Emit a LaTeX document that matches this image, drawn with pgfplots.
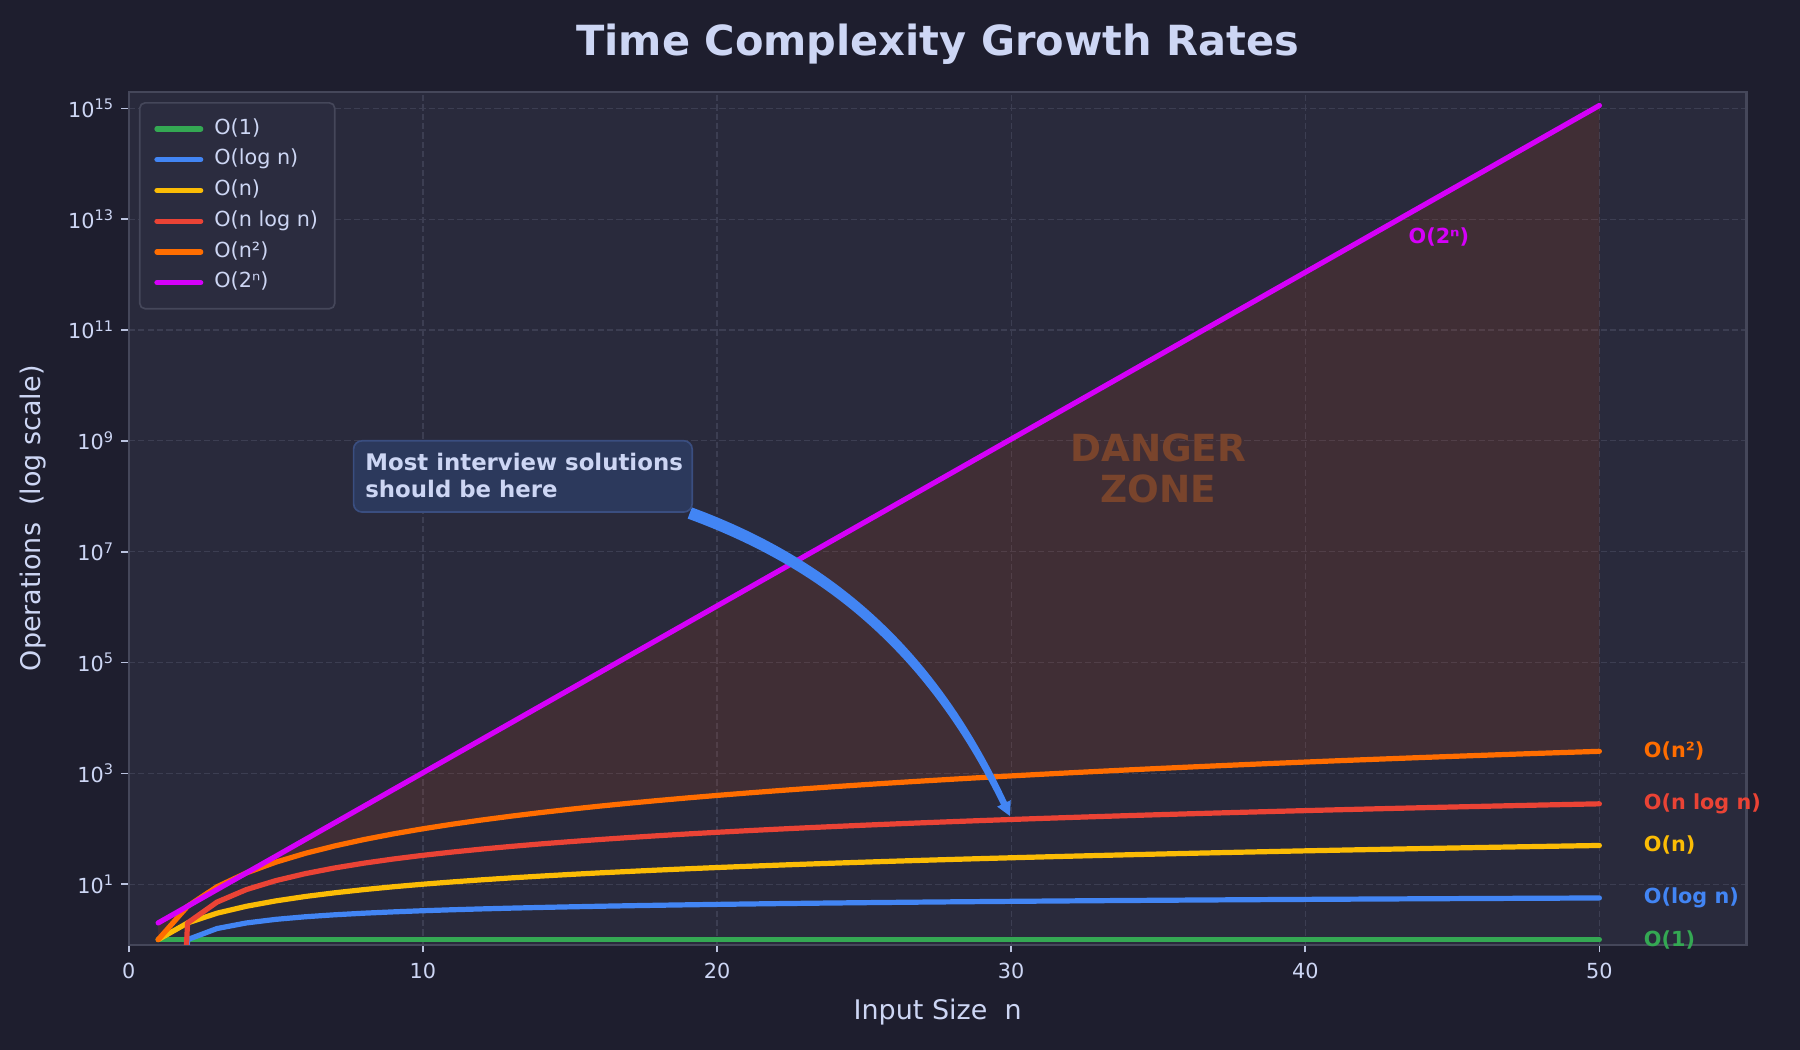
\documentclass[border=0pt]{standalone}
\usepackage{fontspec}
\setmainfont{DejaVu Sans}
\usepackage{pgfplots}
\usepackage{pgfplotstable}
\pgfplotsset{compat=1.18}
\usepgfplotslibrary{fillbetween}

\definecolor{figbg}{RGB}{30,30,46}
\definecolor{axisbg}{RGB}{41,42,60}
\definecolor{legbg}{RGB}{43,44,63}
\definecolor{framecol}{RGB}{69,71,90}
\definecolor{gridcol}{RGB}{60,62,82}
\definecolor{textcol}{RGB}{205,214,244}
\definecolor{tickcol}{RGB}{186,194,222}
\definecolor{cgreen}{RGB}{52,168,83}
\definecolor{cblue}{RGB}{66,133,244}
\definecolor{cyellow}{RGB}{251,188,5}
\definecolor{cred}{RGB}{234,67,53}
\definecolor{corange}{RGB}{255,109,0}
\definecolor{cpurple}{RGB}{213,0,249}
\definecolor{dangerfill}{RGB}{255,80,0}
\definecolor{dangertext}{RGB}{121,68,44}
\definecolor{boxfill}{RGB}{44,57,92}
\definecolor{boxedge}{RGB}{58,78,128}
\pagecolor{figbg}

% Operation counts for n = 1..50 (log base 2).
% log2(1) = 0 cannot sit on a log axis; a vanishing value sends
% that first segment straight off the bottom edge.
\pgfplotstableread{
n  one  logn    lin  nlogn    sq    ex
1  1    1e-10   1    1e-10    1     2
2  1    1       2    2        4     4
3  1    1.585   3    4.755    9     8
4  1    2       4    8        16    16
5  1    2.3219  5    11.61    25    32
6  1    2.585   6    15.51    36    64
7  1    2.8074  7    19.65    49    128
8  1    3       8    24       64    256
9  1    3.1699  9    28.53    81    512
10 1    3.3219  10   33.22    100   1024
11 1    3.4594  11   38.05    121   2048
12 1    3.585   12   43.02    144   4096
13 1    3.7004  13   48.11    169   8192
14 1    3.8074  14   53.30    196   16384
15 1    3.9069  15   58.60    225   32768
16 1    4       16   64       256   65536
17 1    4.0875  17   69.49    289   1.31072e5
18 1    4.1699  18   75.06    324   2.62144e5
19 1    4.2479  19   80.71    361   5.24288e5
20 1    4.3219  20   86.44    400   1.048576e6
21 1    4.3923  21   92.24    441   2.097152e6
22 1    4.4594  22   98.11    484   4.194304e6
23 1    4.5236  23   104.04   529   8.388608e6
24 1    4.585   24   110.04   576   1.6777216e7
25 1    4.6439  25   116.10   625   3.3554432e7
26 1    4.7004  26   122.21   676   6.7108864e7
27 1    4.7549  27   128.38   729   1.34217728e8
28 1    4.8074  28   134.61   784   2.68435456e8
29 1    4.8580  29   140.88   841   5.36870912e8
30 1    4.9069  30   147.21   900   1.073741824e9
31 1    4.9542  31   153.58   961   2.147483648e9
32 1    5       32   160      1024  4.294967296e9
33 1    5.0444  33   166.47   1089  8.589934592e9
34 1    5.0875  34   172.98   1156  1.7179869184e10
35 1    5.1293  35   179.53   1225  3.4359738368e10
36 1    5.1699  36   186.12   1296  6.8719476736e10
37 1    5.2095  37   192.75   1369  1.37438953472e11
38 1    5.2479  38   199.42   1444  2.74877906944e11
39 1    5.2854  39   206.13   1521  5.49755813888e11
40 1    5.3219  40   212.88   1600  1.099511627776e12
41 1    5.3576  41   219.66   1681  2.199023255552e12
42 1    5.3923  42   226.48   1764  4.398046511104e12
43 1    5.4263  43   233.33   1849  8.796093022208e12
44 1    5.4594  44   240.21   1936  1.7592186044416e13
45 1    5.4919  45   247.13   2025  3.5184372088832e13
46 1    5.5236  46   254.09   2116  7.0368744177664e13
47 1    5.5546  47   261.07   2209  1.40737488355328e14
48 1    5.5850  48   268.08   2304  2.81474976710656e14
49 1    5.6147  49   275.12   2401  5.62949953421312e14
50 1    5.6439  50   282.19   2500  1.125899906842624e15
}\growth

\begin{document}
\begin{tikzpicture}
\begin{axis}[
  at={(61.8bp,50.4bp)}, anchor=south west,
  scale only axis, width=776.5bp, height=409.6bp,
  ymode=log, log basis y=10,
  xmin=0, xmax=55, ymin=0.8, ymax=2e15,
  xtick={0,10,20,30,40,50},
  xticklabels={0,10,20,30,40,50},
  ytick={1e1,1e3,1e5,1e7,1e9,1e11,1e13,1e15},
  yticklabels={10\textsuperscript{1},10\textsuperscript{3},10\textsuperscript{5},10\textsuperscript{7},10\textsuperscript{9},10\textsuperscript{11},10\textsuperscript{13},10\textsuperscript{15}},
  yminorticks=false, xminorticks=false,
  xtick pos=left, ytick pos=left,
  axis background/.style={fill=axisbg},
  axis line style={draw=framecol, line width=1bp},
  grid=major,
  major grid style={draw=gridcol, dash pattern=on 3bp off 1.5bp, line width=0.6bp},
  tick align=outside, major tick length=3.5bp,
  tick style={draw=tickcol, line width=0.8bp},
  tick label style={text=textcol, font=\fontsize{10}{12}\selectfont},
  xticklabel style={yshift=-1.5bp},
  clip mode=individual,
  legend cell align=left,
  legend image code/.code={\draw[#1, line cap=round] (0bp,0bp) -- (21bp,0bp);},
  legend style={
    at={(0,1)}, anchor=north west, xshift=4.9bp, yshift=-5bp,
    fill=legbg, draw=framecol, line width=0.8bp, rounded corners=2.5bp,
    text=textcol, font=\fontsize{10}{12}\selectfont,
    inner xsep=7bp, inner ysep=6.5bp, row sep=2.8bp,
    nodes={inner sep=1bp, text height=0.75em, text depth=0.25em},
    /tikz/every odd column/.append style={column sep=4.3bp},
  },
  every axis plot/.append style={line width=2.5bp, line cap=round, line join=round},
]
\addplot[cgreen] table[x=n, y=one] {\growth};
\addlegendentry{O(1)}
\addplot[cblue] table[x=n, y=logn] {\growth};
\addlegendentry{O(log n)}
\addplot[cyellow] table[x=n, y=lin] {\growth};
\addlegendentry{O(n)}
\addplot[cred] table[x=n, y=nlogn] {\growth};
\addlegendentry{O(n log n)}
\addplot[corange, name path=sq] table[x=n, y=sq] {\growth};
\addlegendentry{O(n²)}
\addplot[cpurple, name path=ex] table[x=n, y=ex] {\growth};
\addlegendentry{O(2ⁿ)}

% shaded region between quadratic and exponential growth
\addplot[fill=dangerfill, fill opacity=0.11, draw=none, forget plot]
  fill between[of=sq and ex];

\node[text=dangertext, font=\bfseries\fontsize{18}{20}\selectfont, align=center]
  at (axis cs:35,3.2e8) {DANGER\\ZONE};

% end-of-line labels
\begin{scope}[font=\bfseries\fontsize{10}{12}\selectfont, inner xsep=0pt]
\node[anchor=west, text=corange] at (axis cs:51.5,2500) {O(n²)};
\node[anchor=west, text=cred] at (axis cs:51.5,282.19) {O(n log n)};
\node[anchor=west, text=cyellow] at (axis cs:51.5,50) {O(n)};
\node[anchor=west, text=cblue] at (axis cs:51.5,5.6439) {O(log n)};
\node[anchor=west, text=cgreen] at (axis cs:51.5,1) {O(1)};
\node[anchor=west, text=cpurple] at (axis cs:43.5,4.7e12) {O(2ⁿ)};
\end{scope}
\end{axis}

% title and axis labels
\node[anchor=base, text=textcol, font=\bfseries\fontsize{20}{24}\selectfont]
  at (450.1bp,477.3bp) {Time Complexity Growth Rates};
\node[anchor=base, text=textcol, font=\fontsize{13}{15}\selectfont]
  at (450.1bp,14.6bp) {Input Size\ \ n};
\node[anchor=base, rotate=90, text=textcol, font=\fontsize{13}{15}\selectfont]
  at (19.6bp,255.2bp) {Operations\ \ (log scale)};

% annotation: curved tapered arrow and its callout box (pixel grid of 1800 x 1050)
\begin{scope}[x=0.48bp, y=0.48bp]
\fill[cblue]
  (691.9,542.6) .. controls (834.7,490.0) and (936.3,399.5) .. (1006.9,248.0)
  -- (1010.8,249.8) -- (1010,234) -- (997.2,243.4) -- (1001.1,245.2)
  .. controls (928.3,393.6) and (828.5,479.8) .. (687.7,531.4) -- cycle;
\draw[boxedge, fill=boxfill, line width=0.8bp, rounded corners=4bp]
  (353.6,538) rectangle (692.2,609.2);
\node[anchor=base west, inner sep=0, text=textcol, font=\bfseries\fontsize{11}{13}\selectfont]
  at (365,579.2) {Most interview solutions};
\node[anchor=base west, inner sep=0, text=textcol, font=\bfseries\fontsize{11}{13}\selectfont]
  at (365,552.8) {should be here};
\end{scope}

% the page is exactly the figure area
\pgfresetboundingbox
\path[use as bounding box] (0,0) rectangle (864bp,504bp);
\end{tikzpicture}
\end{document}
